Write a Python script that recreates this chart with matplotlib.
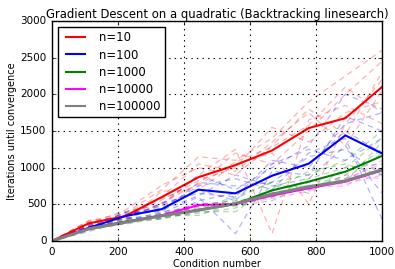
import matplotlib
matplotlib.use("Agg")
import matplotlib.pyplot as plt

plt.style.use('classic')

cond = [0, 111, 222, 333, 444, 556, 667, 778, 889, 1000]

labels = ["n=10", "n=100", "n=1000", "n=10000", "n=100000"]
colors = ["#ff0000", "#0000ff", "#008000", "#ff00ff", "#808080"]

mean_10 = [0, 240, 340, 600, 870, 1035, 1235, 1540, 1675, 2100]
mean_100 = [0, 180, 340, 435, 700, 650, 890, 1055, 1440, 1195]
mean_1000 = [0, 170, 265, 345, 425, 505, 690, 810, 945, 1160]
mean_10000 = [0, 170, 260, 350, 490, 505, 620, 720, 810, 960]
mean_100000 = [0, 165, 255, 345, 420, 510, 640, 740, 820, 970]

trials_10 = [
    [0, 200, 380, 700, 1150, 1100, 1400, 1900, 2250, 2600],
    [0, 260, 300, 520, 780, 1200, 1050, 1500, 2000, 2450],
    [0, 230, 420, 760, 1000, 900, 1300, 1800, 1450, 2300],
    [0, 280, 330, 560, 820, 1000, 1550, 1350, 1750, 1900],
    [0, 220, 260, 680, 700, 1050, 1200, 500, 1600, 2200],
    [0, 250, 360, 480, 900, 1250, 100, 1650, 1850, 1600],
    [0, 190, 310, 600, 1050, 950, 1350, 1750, 1300, 2050],
    [0, 270, 390, 580, 760, 1080, 1280, 1580, 2100, 1750],
]
trials_100 = [
    [0, 150, 400, 500, 900, 700, 1000, 1300, 2000, 1800],
    [0, 200, 300, 380, 600, 100, 950, 900, 1700, 1500],
    [0, 170, 350, 450, 750, 850, 700, 1200, 1400, 300],
    [0, 130, 280, 520, 650, 600, 1100, 1000, 1600, 1750],
    [0, 220, 380, 400, 800, 750, 800, 1150, 1250, 900],
    [0, 190, 320, 300, 550, 650, 900, 1050, 1500, 1200],
    [0, 160, 360, 480, 700, 550, 1050, 1250, 1100, 1400],
    [0, 210, 340, 420, 620, 900, 750, 850, 1300, 650],
]
trials_1000 = [
    [0, 160, 250, 380, 450, 600, 800, 900, 1100, 1500],
    [0, 180, 280, 320, 380, 450, 650, 700, 900, 1250],
    [0, 150, 240, 360, 500, 550, 600, 850, 1000, 1050],
    [0, 190, 270, 300, 400, 400, 750, 750, 800, 1350],
    [0, 170, 300, 350, 350, 520, 700, 950, 1050, 900],
    [0, 160, 260, 400, 480, 480, 550, 800, 850, 1200],
    [0, 175, 230, 310, 420, 580, 800, 650, 1000, 1400],
]
trials_10000 = [
    [0, 170, 270, 360, 520, 480, 650, 700, 850, 1050],
    [0, 160, 250, 340, 470, 530, 600, 760, 780, 900],
    [0, 180, 260, 370, 500, 500, 580, 680, 900, 850],
    [0, 165, 255, 330, 480, 520, 660, 740, 750, 1000],
    [0, 175, 265, 355, 510, 490, 610, 720, 820, 1100],
]
trials_100000 = [
    [0, 165, 255, 345, 430, 500, 650, 730, 830, 980],
    [0, 160, 250, 340, 410, 520, 630, 750, 810, 960],
    [0, 170, 260, 350, 420, 510, 645, 740, 820, 975],
]

means = [mean_10, mean_100, mean_1000, mean_10000, mean_100000]
trials = [trials_10, trials_100, trials_1000, trials_10000, trials_100000]

fig = plt.figure(figsize=(3.95, 2.69), dpi=100, facecolor='white')
ax = fig.add_axes([0.1316, 0.104, 0.8354, 0.818])

for tr, c in zip(trials, colors):
    for t in tr:
        ax.plot(cond, t, color=c, alpha=0.3, lw=0.9, linestyle='--', dashes=(4, 3))

widths = [1.5, 1.5, 1.5, 1.5, 2.2]
for m, c, lab, w in zip(means, colors, labels, widths):
    ax.plot(cond, m, color=c, lw=w, label=lab)

ax.set_xlim(0, 1000)
ax.set_ylim(0, 3000)
ax.set_xticks([0, 200, 400, 600, 800, 1000])
ax.set_yticks([0, 500, 1000, 1500, 2000, 2500, 3000])
ax.tick_params(labelsize=7.5, length=3)
ax.grid(True, color='black', linestyle=':', lw=0.8)
ax.set_xlabel("Condition number", fontsize=7, labelpad=2)
ax.set_ylabel("Iterations until convergence", fontsize=7, labelpad=2)
ax.set_title("Gradient Descent on a quadratic (Backtracking linesearch)", fontsize=8.4, pad=2)
leg = ax.legend(loc='upper left', fontsize=8.4, handlelength=2.2, borderpad=0.4,
                labelspacing=0.35, handletextpad=0.9, borderaxespad=0.5, fancybox=False)
for h in leg.get_lines():
    h.set_linewidth(1.5)

fig.savefig("out.png", dpi=100, facecolor='white')
